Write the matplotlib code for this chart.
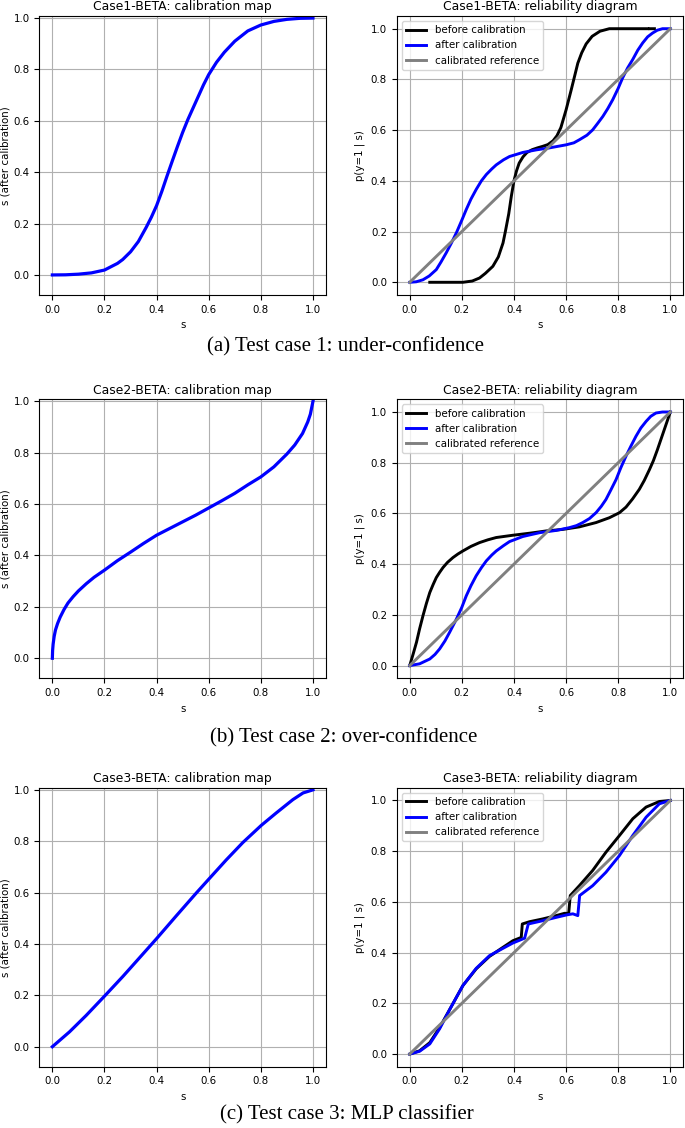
#import necessary libraries
import numpy as np
import matplotlib.pyplot as plt

plt.rcParams['font.size'] = 7.4

# calibration maps (s -> s after calibration)
map1_s = [0, 0.05, 0.1, 0.15, 0.2, 0.25, 0.27, 0.3, 0.33, 0.36, 0.38, 0.4, 0.42, 0.44, 0.46, 0.48, 0.5, 0.52, 0.54, 0.56, 0.58, 0.6, 0.63, 0.66, 0.7, 0.75, 0.8, 0.85, 0.9, 0.95, 1.0]
map1_y = [0, 0.0005, 0.003, 0.008, 0.019, 0.045, 0.06, 0.09, 0.13, 0.185, 0.225, 0.27, 0.325, 0.385, 0.443, 0.5, 0.555, 0.605, 0.65, 0.695, 0.74, 0.78, 0.828, 0.867, 0.91, 0.95, 0.973, 0.987, 0.995, 0.999, 1.0]

map2_s = [0, 0.001, 0.003, 0.007, 0.012, 0.02, 0.03, 0.045, 0.06, 0.08, 0.1, 0.13, 0.16, 0.2, 0.25, 0.3, 0.35, 0.4, 0.45, 0.5, 0.55, 0.6, 0.65, 0.7, 0.75, 0.8, 0.85, 0.9, 0.93, 0.96, 0.98, 0.99, 0.996, 1.0]
map2_y = [0, 0.03, 0.055, 0.085, 0.11, 0.135, 0.16, 0.19, 0.215, 0.24, 0.262, 0.29, 0.315, 0.343, 0.38, 0.413, 0.447, 0.479, 0.505, 0.531, 0.557, 0.585, 0.613, 0.642, 0.675, 0.706, 0.745, 0.795, 0.83, 0.875, 0.92, 0.95, 0.98, 1.0]

map3_s = [0, 0.066, 0.13, 0.203, 0.271, 0.322, 0.401, 0.476, 0.552, 0.6, 0.667, 0.731, 0.802, 0.859, 0.923, 0.962, 1.0]
map3_y = [0, 0.058, 0.122, 0.2, 0.274, 0.332, 0.422, 0.51, 0.598, 0.652, 0.727, 0.795, 0.862, 0.91, 0.962, 0.988, 1.0]

# reliability diagrams: before calibration
before1_s = [0.077, 0.204, 0.24, 0.268, 0.29, 0.319, 0.34, 0.358, 0.367, 0.38, 0.39, 0.4, 0.41, 0.42, 0.435, 0.45, 0.47, 0.49, 0.51, 0.53, 0.55, 0.565, 0.58, 0.6, 0.62, 0.645, 0.66, 0.677, 0.7, 0.73, 0.766, 0.913, 0.918, 0.922, 0.939]
before1_y = [0, 0, 0.005, 0.017, 0.035, 0.063, 0.1, 0.155, 0.2, 0.27, 0.34, 0.4, 0.44, 0.47, 0.495, 0.512, 0.523, 0.53, 0.536, 0.543, 0.558, 0.578, 0.61, 0.68, 0.76, 0.864, 0.905, 0.94, 0.97, 0.99, 1.0, 1.0, np.nan, 1.0, 1.0]

before2_s = [0, 0.013, 0.026, 0.038, 0.051, 0.064, 0.077, 0.09, 0.102, 0.115, 0.128, 0.145, 0.166, 0.185, 0.204, 0.235, 0.268, 0.3, 0.332, 0.396, 0.46, 0.524, 0.587, 0.651, 0.715, 0.766, 0.805, 0.83, 0.855, 0.881, 0.9, 0.92, 0.935, 0.95, 0.965, 0.98, 0.99, 1.0]
before2_y = [0, 0.045, 0.092, 0.145, 0.197, 0.245, 0.288, 0.32, 0.347, 0.368, 0.387, 0.407, 0.426, 0.44, 0.452, 0.47, 0.485, 0.496, 0.505, 0.514, 0.522, 0.531, 0.537, 0.547, 0.564, 0.583, 0.603, 0.625, 0.657, 0.695, 0.73, 0.773, 0.808, 0.85, 0.895, 0.94, 0.97, 1.0]

before3_s = [0, 0.038, 0.077, 0.115, 0.153, 0.204, 0.255, 0.306, 0.358, 0.396, 0.428, 0.432, 0.46, 0.511, 0.562, 0.594, 0.61, 0.616, 0.651, 0.702, 0.753, 0.805, 0.856, 0.907, 0.958, 1.0]
before3_y = [0, 0.013, 0.045, 0.105, 0.175, 0.27, 0.336, 0.385, 0.421, 0.447, 0.46, 0.513, 0.522, 0.533, 0.546, 0.555, 0.555, 0.625, 0.664, 0.724, 0.796, 0.862, 0.928, 0.974, 0.996, 1.0]

# reliability diagrams: after calibration
after1_s = [0, 0.025, 0.051, 0.075, 0.102, 0.12, 0.14, 0.16, 0.179, 0.2, 0.217, 0.235, 0.255, 0.275, 0.294, 0.315, 0.332, 0.36, 0.383, 0.434, 0.485, 0.536, 0.6, 0.63, 0.651, 0.68, 0.702, 0.72, 0.741, 0.76, 0.779, 0.8, 0.817, 0.836, 0.856, 0.875, 0.894, 0.913, 0.932, 0.95, 0.97, 1.0]
after1_y = [0, 0.002, 0.01, 0.025, 0.05, 0.08, 0.116, 0.155, 0.195, 0.245, 0.287, 0.328, 0.366, 0.4, 0.425, 0.447, 0.463, 0.483, 0.496, 0.512, 0.522, 0.53, 0.542, 0.55, 0.562, 0.58, 0.601, 0.625, 0.654, 0.685, 0.72, 0.765, 0.806, 0.845, 0.879, 0.915, 0.944, 0.968, 0.983, 0.994, 1.0, 1.0]

after2_s = [0, 0.038, 0.077, 0.097, 0.115, 0.135, 0.153, 0.179, 0.2, 0.217, 0.235, 0.255, 0.275, 0.294, 0.315, 0.332, 0.36, 0.383, 0.434, 0.498, 0.562, 0.613, 0.64, 0.664, 0.69, 0.715, 0.735, 0.753, 0.772, 0.792, 0.81, 0.83, 0.85, 0.868, 0.887, 0.907, 0.925, 0.945, 0.97, 1.0]
after2_y = [0, 0.007, 0.026, 0.044, 0.066, 0.097, 0.131, 0.183, 0.23, 0.275, 0.315, 0.354, 0.386, 0.413, 0.436, 0.452, 0.473, 0.489, 0.509, 0.524, 0.533, 0.544, 0.552, 0.564, 0.58, 0.603, 0.628, 0.655, 0.693, 0.734, 0.78, 0.826, 0.868, 0.904, 0.937, 0.963, 0.983, 0.996, 1.0, 1.0]

after3_s = [0, 0.038, 0.077, 0.115, 0.153, 0.204, 0.255, 0.306, 0.358, 0.396, 0.441, 0.455, 0.511, 0.562, 0.603, 0.626, 0.645, 0.652, 0.702, 0.753, 0.805, 0.856, 0.907, 0.958, 1.0]
after3_y = [0, 0.011, 0.04, 0.1, 0.175, 0.27, 0.338, 0.388, 0.417, 0.438, 0.457, 0.513, 0.526, 0.539, 0.549, 0.553, 0.546, 0.625, 0.664, 0.717, 0.783, 0.862, 0.934, 0.987, 1.0]

cases = ['Case1', 'Case2', 'Case3']
captions = ['(a) Test case 1: under-confidence', '(b) Test case 2: over-confidence', '(c) Test case 3: MLP classifier']
maps = [(map1_s, map1_y), (map2_s, map2_y), (map3_s, map3_y)]
befores = [(before1_s, before1_y), (before2_s, before2_y), (before3_s, before3_y)]
afters = [(after1_s, after1_y), (after2_s, after2_y), (after3_s, after3_y)]

fig = plt.figure(figsize=(6.85, 11.28), dpi=100)
bottoms = [0.7385, 0.3987, 0.0543]
caption_y = [0.693, 0.346, 0.0115]
caption_x = [0.505, 0.502, 0.507]

for i in range(3):
    #left: calibration map
    ax = fig.add_axes([0.0574, bottoms[i], 0.4185, 0.2473])
    ax.plot(maps[i][0], maps[i][1], color='blue', lw=2.3)
    ax.set_xlim(-0.05, 1.05)
    ax.set_ylim(-0.078, 1.008)
    ax.grid(True)
    ax.set_title(cases[i] + '-BETA: calibration map', fontsize=8.9, pad=4)
    ax.set_xlabel('s')
    ax.set_ylabel('s (after calibration)', labelpad=2)

    #right: reliability diagram
    ax = fig.add_axes([0.5791, bottoms[i], 0.4185, 0.2473])
    ax.plot(befores[i][0], befores[i][1], color='black', lw=2.1, label='before calibration')
    ax.plot(afters[i][0], afters[i][1], color='blue', lw=2.1, label='after calibration')
    ax.plot([0, 1], [0, 1], color='grey', lw=2.1, label='calibrated reference')
    ax.set_xlim(-0.05, 1.05)
    ax.set_ylim(-0.05, 1.05)
    ax.grid(True)
    ax.legend(loc='upper left')
    ax.set_title(cases[i] + '-BETA: reliability diagram', fontsize=8.9, pad=4)
    ax.set_xlabel('s')
    ax.set_ylabel('p(y=1 | s)')

    fig.text(caption_x[i], caption_y[i], captions[i], ha='center', va='center',
             family='Liberation Serif', fontsize=15)

fig.savefig('out.png', dpi=100)
